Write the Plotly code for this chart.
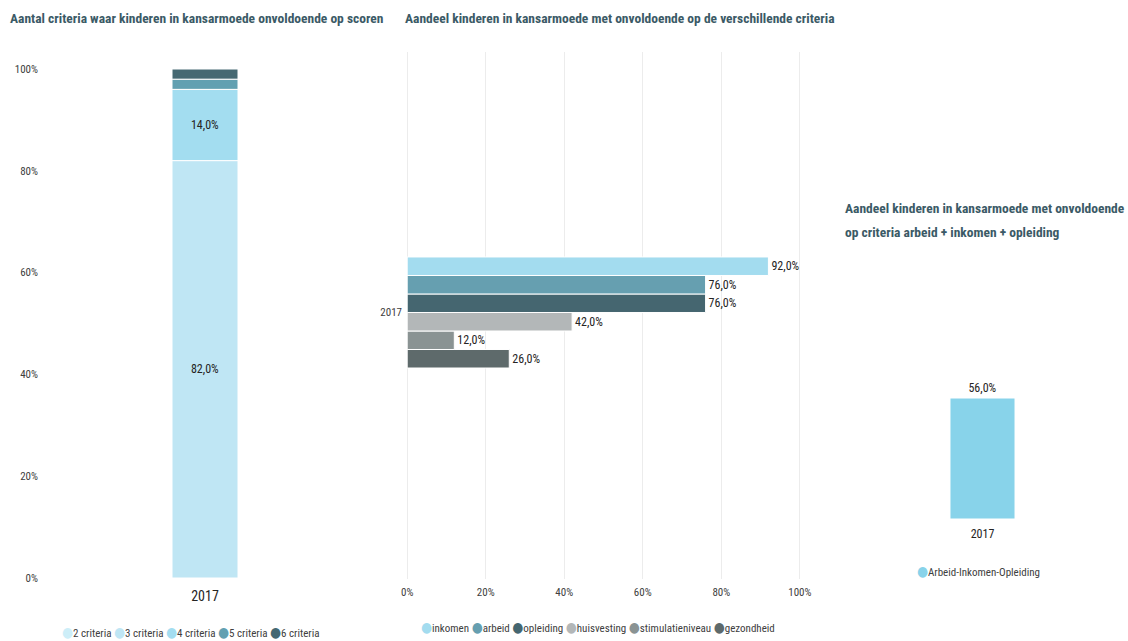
import plotly.graph_objects as go

# ---- data -------------------------------------------------------------
year = ["2017"]

# number of criteria on which children score insufficiently (share, %)
criteria_names = ["2 criteria", "3 criteria", "4 criteria", "5 criteria", "6 criteria"]
criteria_values = [0.0, 82.0, 14.0, 2.0, 2.0]
criteria_colors = ["#cdeef8", "#bfe6f4", "#a3ddf0", "#62a0b1", "#456872"]

# share of children insufficient per criterion (%)
domain_names = ["inkomen", "arbeid", "opleiding", "huisvesting", "stimulatieniveau", "gezondheid"]
domain_values = [92.0, 76.0, 76.0, 42.0, 12.0, 26.0]
domain_colors = ["#a3dcef", "#669fb0", "#456670", "#b3b7b8", "#8a9393", "#5e6a6b"]

# combined criterion work + income + education (%)
combo_name = "Arbeid-Inkomen-Opleiding"
combo_values = [56.0]
combo_color = "#88d3ea"

percent_ticks = [0, 20, 40, 60, 80, 100]
percent_ticktext = [f"{t}%" for t in percent_ticks]

titles = [
    "Aantal criteria waar kinderen in kansarmoede onvoldoende op scoren",
    "Aandeel kinderen in kansarmoede met onvoldoende op de verschillende criteria",
    "Aandeel kinderen in kansarmoede met onvoldoende",
    "op criteria arbeid + inkomen + opleiding",
]

# ---- styling ----------------------------------------------------------
W, H = 1128, 641
NARROW = "Liberation Sans Narrow, Arial Narrow, Roboto Condensed, DejaVu Sans Condensed, sans-serif"
TITLE_COLOR = "#3b5a66"
LABEL_COLOR = "#252423"
TICK_COLOR = "#404040"
GRID_COLOR = "#ececec"
TICK_FONT = dict(family=NARROW, size=11, color=TICK_COLOR)
LABEL_FONT = dict(family=NARROW, size=12, color=LABEL_COLOR)


def fx(px):
    return px / W


def fy(py):
    return 1 - py / H


def fmt(v):
    return f"{v:.1f}".replace(".", ",") + "%"


fig = go.Figure()

# ---- left: stacked column ---------------------------------------------
base = 0.0
for name, val, col in zip(criteria_names, criteria_values, criteria_colors):
    fig.add_trace(go.Bar(
        x=year, y=[val], base=[base], name=name,
        marker=dict(color=col, line=dict(color="white", width=1)),
        offsetgroup="stack",
        text=[fmt(val) if val >= 5 else ""],
        textposition="inside", insidetextanchor="middle",
        textfont=LABEL_FONT,
        xaxis="x", yaxis="y", showlegend=False, hoverinfo="name+y",
    ))
    base += val

# ---- middle: grouped horizontal bars ----------------------------------
for name, val, col in reversed(list(zip(domain_names, domain_values, domain_colors))):
    fig.add_trace(go.Bar(
        x=[val], y=year, name=name, orientation="h",
        marker=dict(color=col, line=dict(color="white", width=1)),
        text=[fmt(val)], textposition="outside", textfont=LABEL_FONT,
        cliponaxis=False,
        xaxis="x2", yaxis="y2", showlegend=False, hoverinfo="name+x",
    ))

# ---- right: single column ---------------------------------------------
fig.add_trace(go.Bar(
    x=year, y=combo_values, name=combo_name,
    marker=dict(color=combo_color, line=dict(color="white", width=1)),
    text=[fmt(v) for v in combo_values], textposition="outside",
    textfont=LABEL_FONT, cliponaxis=False,
    xaxis="x3", yaxis="y3", showlegend=False, hoverinfo="name+y",
))

# ---- titles and legends as text ---------------------------------------
annotations = []
title_pos = [(8, 18), (403, 18), (843, 208), (843, 232)]
for t, (px, py) in zip(titles, title_pos):
    annotations.append(dict(
        text=f"<b>{t}</b>", x=fx(px), y=fy(py), xref="paper", yref="paper",
        xanchor="left", yanchor="middle", showarrow=False,
        font=dict(family=NARROW, size=13.5, color=TITLE_COLOR),
    ))


def legend_text(names, colors):
    return " ".join(
        f"<span style='color:{c};font-size:14px'>●</span>{n}"
        for n, c in zip(names, colors)
    )


legend_pos = [
    (legend_text(criteria_names, criteria_colors), 60, 632),
    (legend_text(domain_names, domain_colors), 419, 627),
    (legend_text([combo_name], [combo_color]), 915, 571),
]
for txt, px, py in legend_pos:
    annotations.append(dict(
        text=txt, x=fx(px), y=fy(py), xref="paper", yref="paper",
        xanchor="left", yanchor="middle", showarrow=False,
        font=dict(family=NARROW, size=11, color=TICK_COLOR),
    ))

bargap = 1 - 66 / 320

fig.update_layout(
    template="none",
    width=W, height=H, autosize=False,
    margin=dict(l=0, r=0, t=0, b=0, pad=0, autoexpand=False),
    paper_bgcolor="white", plot_bgcolor="white",
    barmode="group", bargap=bargap, bargroupgap=0,
    separators=", ",
    showlegend=False,
    annotations=annotations,
    # left
    xaxis=dict(domain=[fx(45), fx(365)], type="category", range=[-0.5, 0.5],
               showline=False, showgrid=False, ticks="", automargin=False,
               ticklabelstandoff=8,
               tickfont=dict(family=NARROW, size=14, color=LABEL_COLOR), anchor="y"),
    yaxis=dict(domain=[fy(578), fy(69)], range=[0, 100], tickvals=percent_ticks,
               ticktext=percent_ticktext, showgrid=False, zeroline=False, automargin=False,
               showline=False, ticks="", tickfont=TICK_FONT, anchor="x", ticklabelstandoff=6),
    # middle
    xaxis2=dict(domain=[fx(407), fx(801)], range=[-0.05, 100.3], tickvals=percent_ticks,
                ticktext=percent_ticktext, showgrid=True, gridcolor=GRID_COLOR,
                gridwidth=1, zeroline=True, zerolinecolor=GRID_COLOR, zerolinewidth=1,
                showline=False, ticks="", automargin=False, ticklabelstandoff=5,
                tickfont=TICK_FONT, anchor="y2"),
    yaxis2=dict(domain=[fy(579), fy(52)], type="category", range=[-0.4951, 0.4839],
                showgrid=False, showline=False, ticks="", tickfont=TICK_FONT, automargin=False,
                anchor="x2", ticklabelstandoff=4),
    # right
    xaxis3=dict(domain=[fx(880), fx(1085)], type="category", range=[-0.325, 0.325],
                showgrid=False, showline=False, ticks="", automargin=False,
                ticklabelstandoff=6,
                tickfont=dict(family=NARROW, size=12, color=LABEL_COLOR), anchor="y3"),
    yaxis3=dict(domain=[fy(519), fy(300)], range=[0, 101.36], visible=False,
                automargin=False, anchor="x3"),
)

fig.write_html(
    "out.html",
    post_script="document.body.style.margin='0';document.body.style.overflow='hidden';",
)
